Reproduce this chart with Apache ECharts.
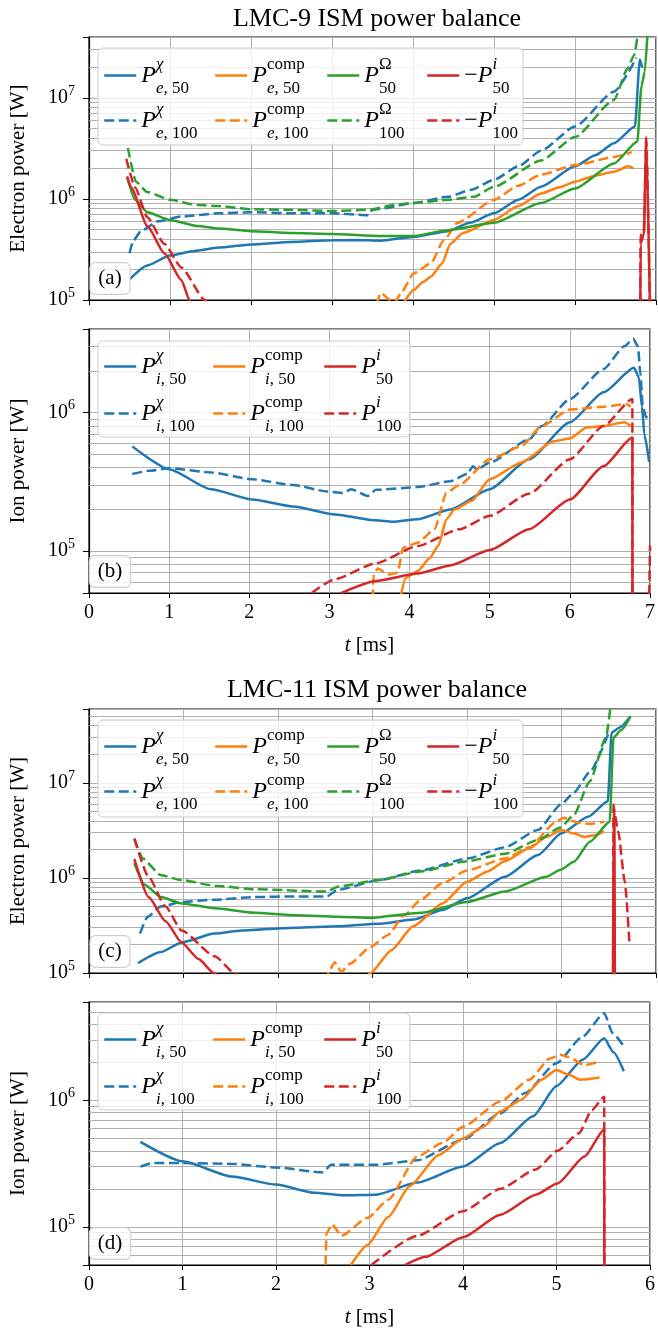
<!DOCTYPE html>
<html><head><meta charset="utf-8">
<script src="https://cdn.jsdelivr.net/npm/echarts@6/dist/echarts.min.js"></script>
<style>html,body{margin:0;padding:0;background:#fff}#c{width:658px;height:1334px}</style>
</head><body><div id="c"></div>
<script>
// ---------------- DATA (t [ms], power [W]) ----------------
const titles = ['LMC-9 ISM power balance', 'LMC-11 ISM power balance'];
const xMaxLMC9 = 7, xMaxLMC11 = 6;
const rangeA = [1e5, 4e7], rangeB = [5e4, 4e6], rangeC = [1e5, 6e7], rangeD = [5e4, 6e6];

// (a) LMC-9 electron power
const a_chi50 = [[0.50,1.6e5],[0.72,2.2e5],[1.0,2.75e5],[1.3,3.05e5],[1.6,3.3e5],[2.0,3.55e5],[2.5,3.75e5],[3.0,3.9e5],[3.3,3.92e5],[3.6,3.86e5],[4.0,4.2e5],[4.43,4.8e5],[4.7,5.8e5],[5.0,7.2e5],[5.3,9.8e5],[5.58,1.32e6],[6.0,2.1e6],[6.25,2.7e6],[6.48,3.55e6],[6.74,5.2e6],[6.8,2.4e7],[6.83,2.0e7]];
const a_chi100 = [[0.50,2.9e5],[0.55,3.9e5],[0.64,4.8e5],[0.85,6.0e5],[1.14,6.7e5],[1.6,7.2e5],[2.0,7.4e5],[2.5,7.2e5],[3.0,7.2e5],[3.45,6.9e5],[3.5,7.8e5],[3.6,8.0e5],[4.0,9.1e5],[4.43,1.05e6],[4.72,1.23e6],[5.0,1.55e6],[5.3,2.1e6],[5.58,3.0e6],[6.0,5.2e6],[6.48,1.15e7],[6.76,2.5e7]];
const a_comp50 = [[3.89,9.5e4],[4.01,1.26e5],[4.12,1.5e5],[4.22,1.7e5],[4.36,2.3e5],[4.46,3.6e5],[4.62,4.6e5],[5.0,6.2e5],[5.3,8.5e5],[5.58,1.13e6],[5.8,1.3e6],[6.0,1.48e6],[6.25,1.7e6],[6.48,1.86e6],[6.66,2.1e6],[6.72,2.0e6]];
const a_comp100 = [[3.55,9e4],[3.6,1.17e5],[3.72,1.0e5],[3.78,9.5e4],[3.85,1.17e5],[4.01,1.84e5],[4.22,2.3e5],[4.38,3.9e5],[4.55,5.8e5],[5.0,9.8e5],[5.3,1.35e6],[5.58,1.74e6],[6.0,2.16e6],[6.48,2.6e6],[6.7,2.9e6]];
const a_omega50 = [[0.47,1.66e6],[0.57,9.8e5],[0.72,7.4e5],[1.0,6.2e5],[1.34,5.4e5],[1.6,5.1e5],[2.0,4.8e5],[2.5,4.6e5],[3.0,4.5e5],[3.6,4.3e5],[4.0,4.3e5],[4.43,4.9e5],[5.0,5.8e5],[5.58,9.1e5],[6.0,1.27e6],[6.48,2.24e6],[6.77,3.7e6],[6.82,1.3e7],[6.86,1.8e7],[6.9,5e7]];
const a_omega100 = [[0.48,3.2e6],[0.58,1.48e6],[0.72,1.17e6],[1.0,9.8e5],[1.34,8.7e5],[1.6,8.5e5],[2.0,7.9e5],[2.5,7.8e5],[3.0,7.6e5],[3.45,7.8e5],[3.8,8.8e5],[4.0,9.1e5],[4.43,9.8e5],[4.75,1.05e6],[5.0,1.32e6],[5.58,2.4e6],[6.0,4.1e6],[6.48,9.5e6],[6.65,1.95e7],[6.73,2.65e7],[6.78,4.5e7]];
const a_mPi50 = [[0.47,1.66e6],[0.52,1.3e6],[0.72,5.4e5],[0.93,2.9e5],[1.14,1.58e5],[1.24,1.0e5],[1.3,8e4],[1.31,null],[6.805,5e4],[6.81,3.6e5],[6.85,4.5e5],[6.88,4.1e6],[6.93,5e4]];
const a_mPi100 = [[0.46,2.5e6],[0.57,1.3e6],[0.72,6.6e5],[0.93,3.6e5],[1.14,2.1e5],[1.43,1.0e5],[1.5,8.5e4],[1.51,null],[6.805,5e4],[6.81,4.4e5],[6.85,4.6e5],[6.88,3.8e6],[6.93,5e4]];

// (b) LMC-9 ion power
const b_chi50 = [[0.54,5.7e5],[1.0,3.9e5],[1.52,2.8e5],[2.04,2.36e5],[2.55,2.1e5],[3.07,1.84e5],[3.58,1.67e5],[3.79,1.63e5],[4.1,1.7e5],[4.51,2.0e5],[5.0,2.8e5],[5.49,4.6e5],[6.0,8.5e5],[6.42,1.4e6],[6.8,2.1e6],[6.86,1.8e6],[6.9,1.1e6],[6.93,6.9e5],[6.99,4.4e5]];
const b_chi100 = [[0.54,3.6e5],[0.75,3.8e5],[1.0,3.97e5],[1.52,3.7e5],[2.04,3.3e5],[2.55,3.0e5],[2.97,2.7e5],[3.17,2.63e5],[3.27,2.8e5],[3.48,2.5e5],[3.58,2.77e5],[4.1,2.9e5],[4.51,3.2e5],[4.72,3.6e5],[4.79,4.1e5],[4.84,3.9e5],[5.0,4.35e5],[5.49,6.4e5],[5.65,8e5],[6.0,1.25e6],[6.42,2.06e6],[6.68,3.0e6],[6.79,3.4e6],[6.85,3.0e6],[6.88,1.9e6],[6.91,1.1e6],[6.95,9.3e5],[6.99,9e5]];
const b_comp50 = [[3.88,4.5e4],[3.95,6.4e4],[4.1,7.2e4],[4.25,8.9e4],[4.36,1.1e5],[4.46,1.7e5],[4.56,2.0e5],[4.77,2.3e5],[5.0,3.3e5],[5.39,4.35e5],[5.8,6.2e5],[6.0,6.5e5],[6.21,7.8e5],[6.42,8e5],[6.68,8.5e5],[6.76,8e5]];
const b_comp100 = [[3.54,4.5e4],[3.55,6.6e4],[3.6,7.5e4],[3.74,6.8e4],[3.85,7e4],[3.92,1.06e5],[4.1,1.15e5],[4.31,1.44e5],[4.46,2.64e5],[4.62,3.0e5],[5.0,4.6e5],[5.39,5.7e5],[5.65,8e5],[6.0,1.05e6],[6.42,1.1e6],[6.7,1.15e6],[6.76,1.1e6]];
const b_Pi50 = [[3.15,5e4],[3.58,6.1e4],[4.1,6.9e4],[4.51,7.9e4],[5.0,1.02e5],[5.49,1.44e5],[6.0,2.36e5],[6.42,4.1e5],[6.78,6.6e5],[6.781,3e4]];
const b_Pi100 = [[2.78,5e4],[3.07,6.3e4],[3.58,8.2e4],[4.1,1.09e5],[4.62,1.44e5],[5.0,1.8e5],[5.49,2.6e5],[6.0,4.6e5],[6.42,8e5],[6.78,1.25e6],[6.781,3e4],[6.9,null],[6.985,3e4],[7.0,1.1e5]];

// (c) LMC-11 electron power
const c_chi50 = [[0.52,1.27e5],[0.76,1.66e5],[0.98,2.1e5],[1.33,2.6e5],[1.62,2.8e5],[2.19,3.0e5],[2.63,3.1e5],[3.07,3.3e5],[3.43,3.65e5],[3.74,4.6e5],[4.0,6.1e5],[4.4,1.03e6],[4.75,1.74e6],[5.0,2.95e6],[5.28,4.4e6],[5.49,6.4e6],[5.53,3.4e7],[5.61,3.8e7],[5.73,5.0e7]];
const c_chi100 = [[0.54,2.6e5],[0.62,3.9e5],[0.76,5.0e5],[0.98,5.6e5],[1.33,5.9e5],[1.75,6.3e5],[2.19,6.4e5],[2.52,6.4e5],[2.63,7.5e5],[3.07,9.5e5],[3.51,1.2e6],[4.0,1.6e6],[4.4,2.1e6],[4.75,3.2e6],[5.0,6.0e6],[5.13,7.9e6],[5.3,1.3e7],[5.5,3.4e7]];
const c_comp50 = [[2.9,8e4],[2.98,1e5],[3.2,1.74e5],[3.43,3.1e5],[3.74,5.4e5],[4.0,9.1e5],[4.22,1.17e6],[4.4,1.5e6],[4.66,2.05e6],[4.84,2.7e6],[5.0,3.2e6],[5.13,2.95e6],[5.24,2.7e6],[5.34,2.8e6],[5.45,3.1e6]];
const c_comp100 = [[2.52,8e4],[2.53,1e5],[2.6,1.3e5],[2.67,1.03e5],[2.76,1.25e5],[2.98,1.88e5],[3.16,2.5e5],[3.34,4.1e5],[3.51,5.9e5],[3.74,8.8e5],[4.0,1.2e6],[4.4,1.6e6],[4.66,2.1e6],[4.93,3.8e6],[5.02,4.3e6],[5.19,3.8e6],[5.3,3.7e6],[5.45,3.9e6]];
const c_omega50 = [[0.48,1.43e6],[0.59,8.5e5],[0.76,6.3e5],[0.98,5.4e5],[1.33,4.8e5],[1.75,4.3e5],[2.19,4.06e5],[2.63,3.9e5],[2.98,3.8e5],[3.51,4.3e5],[4.0,5.6e5],[4.4,7.2e5],[4.84,1.03e6],[4.99,1.22e6],[5.13,1.48e6],[5.3,2.4e6],[5.51,3.9e6],[5.55,3.0e7],[5.63,3.6e7],[5.73,5e7]];
const c_omega100 = [[0.48,2.6e6],[0.57,1.6e6],[0.76,1.07e6],[0.98,9.5e5],[1.33,8.3e5],[1.75,7.6e5],[2.52,7.2e5],[2.63,8.1e5],[3.07,9.5e5],[3.51,1.17e6],[4.0,1.5e6],[4.4,1.8e6],[4.75,2.5e6],[4.99,3.4e6],[5.13,4.6e6],[5.3,1.04e7],[5.47,3.0e7],[5.52,6.5e7]];
const c_mPi50 = [[0.48,1.58e6],[0.63,6.3e5],[0.81,3.5e5],[0.98,2.1e5],[1.16,1.4e5],[1.32,1e5],[1.4,8.5e4],[1.41,null],[5.545,5e4],[5.55,6.0e6],[5.56,4.5e6],[5.565,5e4]];
const c_mPi100 = [[0.48,2.6e6],[0.63,1.03e6],[0.81,5.0e5],[0.98,2.8e5],[1.33,1.5e5],[1.54,1e5],[1.6,9e4],[1.61,null],[5.545,5e4],[5.55,5.5e6],[5.6,3.1e6],[5.67,9.1e5],[5.72,2.0e5]];

// (d) LMC-11 ion power
const d_chi50 = [[0.55,4.7e5],[1.0,3.3e5],[1.53,2.5e5],[2.0,2.16e5],[2.41,1.86e5],[2.72,1.78e5],[3.07,1.8e5],[3.51,2.24e5],[4.0,3.0e5],[4.4,4.6e5],[4.75,7.5e5],[5.0,1.3e6],[5.28,2.1e6],[5.51,3.1e6],[5.61,2.4e6],[5.72,1.7e6]];
const d_chi100 = [[0.55,3.0e5],[0.68,3.2e5],[1.0,3.2e5],[1.53,3.15e5],[2.0,2.95e5],[2.5,2.7e5],[2.59,3.1e5],[3.07,3.1e5],[3.51,3.36e5],[4.0,4.9e5],[4.4,7.9e5],[4.66,1.14e6],[5.0,1.97e6],[5.28,3.2e6],[5.51,4.9e6],[5.6,3.4e6],[5.71,2.75e6]];
const d_comp50 = [[2.8,5e4],[2.98,7.2e4],[3.2,1.2e5],[3.43,2.1e5],[3.74,3.7e5],[4.0,5.0e5],[4.22,6.2e5],[4.4,8.2e5],[4.62,1.01e6],[4.84,1.46e6],[5.0,1.74e6],[5.13,1.6e6],[5.25,1.46e6],[5.46,1.52e6]];
const d_comp100 = [[2.53,5e4],[2.54,8.9e4],[2.6,1.05e5],[2.7,8.5e4],[2.98,1.18e5],[3.2,1.64e5],[3.51,3.6e5],[3.78,4.6e5],[4.0,6.2e5],[4.4,9.8e5],[4.71,1.46e6],[4.93,2.15e6],[5.04,2.3e6],[5.13,2.2e6],[5.3,1.9e6],[5.43,2.0e6]];
const d_Pi50 = [[3.38,5e4],[3.6,5.8e4],[4.0,8.3e4],[4.4,1.25e5],[4.78,1.8e5],[5.01,2.2e5],[5.3,3.6e5],[5.51,5.9e5],[5.512,3e4]];
const d_Pi100 = [[3.02,5e4],[3.51,8.5e4],[4.0,1.33e5],[4.4,2.0e5],[4.78,2.85e5],[5.01,4.0e5],[5.24,5.5e5],[5.38,8.4e5],[5.51,1.07e6],[5.512,3e4]];

// ---------------- STYLE / LAYOUT ----------------
const FONT = "'Liberation Serif','Times New Roman',serif";
const COLORS = { chi: '#1f77b4', comp: '#ff7f0e', omega: '#2ca02c', Pi: '#d62728', mPi: '#d62728' };
const GRIDC = '#b0b0b0';

const panels = [
  { id: 'a', top: 37, height: 263, xMax: xMaxLMC9, yRange: rangeA, yName: 'Electron power [W]', xName: false, sp: 'e',
    cols: [103, 214, 326, 426], rows: [72, 117], box: [98, 48, 425, 97],
    series: [['chi','50',a_chi50],['chi','100',a_chi100],['comp','50',a_comp50],['comp','100',a_comp100],['omega','50',a_omega50],['omega','100',a_omega100],['mPi','50',a_mPi50],['mPi','100',a_mPi100]] },
  { id: 'b', top: 329, height: 264, xMax: xMaxLMC9, yRange: rangeB, yName: 'Ion power [W]', xName: true, sp: 'i',
    cols: [103, 212, 323], rows: [363, 410], box: [98, 341, 312, 96],
    series: [['chi','50',b_chi50],['chi','100',b_chi100],['comp','50',b_comp50],['comp','100',b_comp100],['Pi','50',b_Pi50],['Pi','100',b_Pi100]] },
  { id: 'c', top: 709, height: 264, xMax: xMaxLMC11, yRange: rangeC, yName: 'Electron power [W]', xName: false, sp: 'e',
    cols: [103, 214, 326, 426], rows: [743, 788], box: [98, 720, 425, 97],
    series: [['chi','50',c_chi50],['chi','100',c_chi100],['comp','50',c_comp50],['comp','100',c_comp100],['omega','50',c_omega50],['omega','100',c_omega100],['mPi','50',c_mPi50],['mPi','100',c_mPi100]] },
  { id: 'd', top: 1002, height: 263, xMax: xMaxLMC11, yRange: rangeD, yName: 'Ion power [W]', xName: true, sp: 'i',
    cols: [103, 212, 323], rows: [1036, 1083], box: [98, 1013, 312, 97],
    series: [['chi','50',d_chi50],['chi','100',d_chi100],['comp','50',d_comp50],['comp','100',d_comp100],['Pi','50',d_Pi50],['Pi','100',d_Pi100]] }
];

function minorValues(r) {
  const out = [];
  for (let k = Math.floor(Math.log10(r[0])); k <= Math.ceil(Math.log10(r[1])); k++) {
    for (let m = 2; m <= 9; m++) {
      const v = m * Math.pow(10, k);
      if (v > r[0] * 1.0001 && v < r[1] * 0.9999) out.push(v);
    }
  }
  return out;
}

const RICH = {
  P:   { fontFamily: FONT, fontStyle: 'italic', fontSize: 24, lineHeight: 32, height: 32, verticalAlign: 'middle', color: '#000' },
  pre: { fontFamily: FONT, fontSize: 24, lineHeight: 32, height: 32, verticalAlign: 'middle', color: '#000' },
  sup: { fontFamily: FONT, fontSize: 17, lineHeight: 10, height: 10, width: 0, verticalAlign: 'top', color: '#000' },
  supI:{ fontFamily: FONT, fontSize: 17, fontStyle: 'italic', lineHeight: 10, height: 10, width: 0, verticalAlign: 'top', color: '#000' },
  sub: { fontFamily: FONT, fontSize: 17, lineHeight: 6, height: 6, verticalAlign: 'bottom', color: '#000' },
  subI:{ fontFamily: FONT, fontSize: 17, fontStyle: 'italic', lineHeight: 6, height: 6, verticalAlign: 'bottom', color: '#000' }
};

function legendLabel(name) {
  const [id, kind, res, sp] = name.split('_');
  let pre = kind === 'mPi' ? '{pre|\u2212}' : '';
  let sup = '';
  if (kind === 'chi') sup = '{supI|\u03c7}';
  else if (kind === 'comp') sup = '{sup|comp}';
  else if (kind === 'omega') sup = '{sup|\u03a9}';
  else sup = '{supI|i}';
  let sub = (kind === 'chi' || kind === 'comp') ? '{subI|' + sp + '}{sub|, ' + res + '}' : '{sub|' + res + '}';
  return pre + '{P|P}' + sup + sub;
}

const grids = [], xAxes = [], yAxes = [], series = [], legends = [], graphics = [];

panels.forEach((p, i) => {
  grids.push({ left: 88, width: 568, top: p.top, height: p.height, show: true, borderColor: '#000', borderWidth: 1.2, backgroundColor: '#fff', containLabel: false });
  xAxes.push({
    type: 'value', gridIndex: i, min: 0, max: p.xMax, interval: 1,
    axisLine: { show: true, onZero: false, lineStyle: { color: '#000', width: 1.2 } },
    axisTick: { show: true, length: 5, lineStyle: { color: '#000', width: 1 } },
    axisLabel: { show: p.xName, margin: 10, fontFamily: FONT, fontSize: 20, color: '#000' },
    splitLine: { show: true, lineStyle: { color: GRIDC, width: 1 } },
    name: p.xName ? '{i|t} [ms]' : '', nameLocation: 'middle', nameGap: 42,
    nameTextStyle: { fontFamily: FONT, fontSize: 21, color: '#000', rich: { i: { fontFamily: FONT, fontSize: 21, fontStyle: 'italic', color: '#000' } } }
  });
  yAxes.push({
    type: 'log', logBase: 10, gridIndex: i, min: p.yRange[0], max: p.yRange[1],
    axisLine: { show: true, lineStyle: { color: '#000', width: 1.2 } },
    axisTick: { show: true, length: 6, lineStyle: { color: '#000', width: 1 } },
    axisLabel: {
      margin: 14, color: '#000',
      formatter: v => { const e = Math.log10(v), r = Math.round(e); return Math.abs(e - r) < 1e-6 ? '{b|10}{s|' + r + '}' : ''; },
      rich: {
        b: { fontFamily: FONT, fontSize: 20, lineHeight: 24, height: 24, verticalAlign: 'middle', color: '#000' },
        s: { fontFamily: FONT, fontSize: 14, lineHeight: 10, height: 10, verticalAlign: 'top', color: '#000' }
      }
    },
    splitLine: { show: true, lineStyle: { color: GRIDC, width: 1 } },
    name: p.yName, nameLocation: 'middle', nameRotate: 90, nameGap: 60,
    nameTextStyle: { fontFamily: FONT, fontSize: 21, color: '#000' }
  });
  // minor grid lines (log minor positions) via markLine
  series.push({
    type: 'line', xAxisIndex: i, yAxisIndex: i, data: [], silent: true, z: 1,
    markLine: {
      silent: true, symbol: ['none', 'none'], z: 1, animation: false,
      label: { show: false }, emphasis: { disabled: true },
      lineStyle: { color: GRIDC, width: 1, type: 'solid' },
      data: minorValues(p.yRange).map(v => ({ yAxis: v }))
    }
  });
  p.series.forEach((s, j) => {
    const [kind, res, data] = s;
    const name = p.id + '_' + kind + '_' + res + '_' + p.sp;
    series.push({
      name, type: 'line', xAxisIndex: i, yAxisIndex: i, data,
      symbol: 'none', showSymbol: false, smooth: 0.2, smoothMonotone: 'x', connectNulls: false, clip: true, z: 2,
      lineStyle: { color: COLORS[kind], width: 2.5, type: res === '100' ? [10, 4.5] : 'solid', cap: 'butt' },
      itemStyle: { color: COLORS[kind] },
      emphasis: { disabled: true }
    });
    const col = Math.floor(j / 2), row = j % 2;
    legends.push({
      data: [name], left: p.cols[col], top: p.rows[row] - 16, padding: 0,
      itemWidth: 32, itemHeight: 12, selectedMode: false, z: 5,
      itemStyle: { opacity: 0, borderWidth: 0 },
      lineStyle: { width: 2.5 },
      formatter: legendLabel,
      textStyle: { fontFamily: FONT, color: '#000', rich: RICH }
    });
  });
  graphics.push({
    type: 'rect', z: 3, silent: true,
    shape: { x: p.box[0], y: p.box[1], width: p.box[2], height: p.box[3], r: 5 },
    style: { fill: 'rgba(255,255,255,0.8)', stroke: '#cccccc', lineWidth: 1 }
  });
  graphics.push({
    type: 'text', z: 3, silent: true, x: 110, y: p.top + p.height - 21.5,
    style: { text: '(' + p.id + ')', font: '21px ' + FONT, fill: '#000', align: 'center', verticalAlign: 'middle',
      textAlign: 'center', textVerticalAlign: 'middle',
      backgroundColor: 'rgba(255,255,255,0.8)', borderColor: '#cccccc', borderWidth: 1, borderRadius: 5, padding: [5, 8] }
  });
});

const chart = echarts.init(document.getElementById('c'), null, { renderer: 'canvas' });
chart.setOption({
  animation: false,
  backgroundColor: '#fff',
  title: [
    { text: titles[0], left: 372, top: 1, textAlign: 'center', textStyle: { fontFamily: FONT, fontSize: 26, fontWeight: 'normal', color: '#000' } },
    { text: titles[1], left: 372, top: 672, textAlign: 'center', textStyle: { fontFamily: FONT, fontSize: 26, fontWeight: 'normal', color: '#000' } }
  ],
  grid: grids, xAxis: xAxes, yAxis: yAxes, series, legend: legends,
  graphic: { elements: graphics }
});
</script></body></html>
